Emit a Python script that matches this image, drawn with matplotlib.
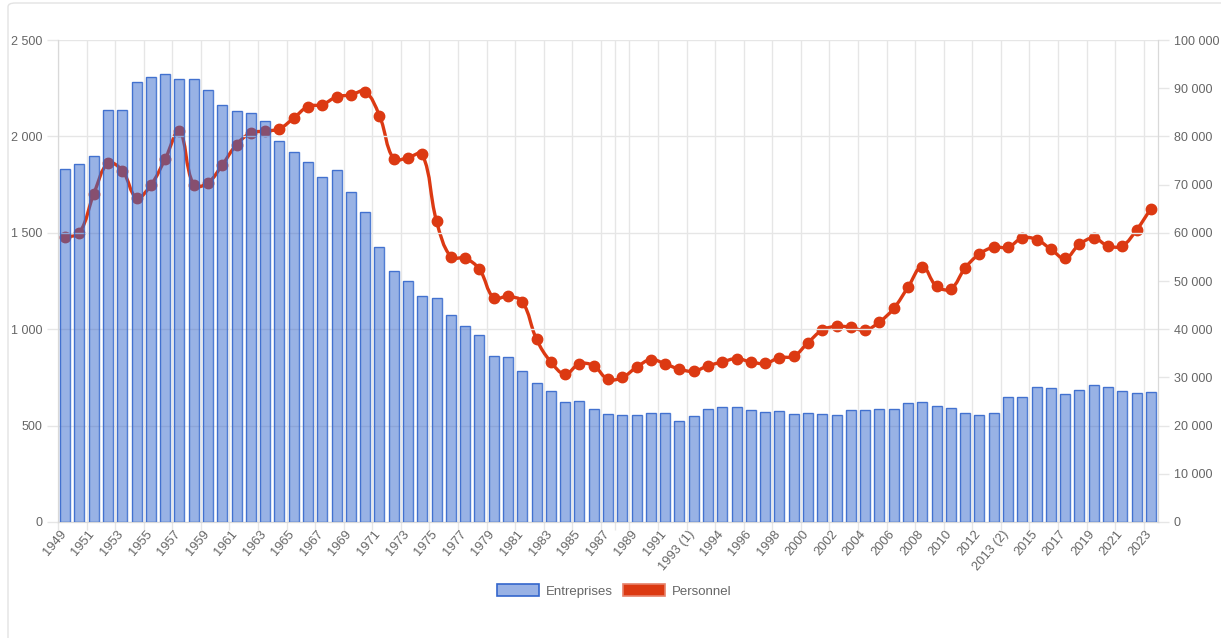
import matplotlib
matplotlib.use("Agg")
import matplotlib.pyplot as plt
import numpy as np
from matplotlib.path import Path
from matplotlib.patches import PathPatch, Patch, FancyBboxPatch
from matplotlib.ticker import FuncFormatter, FixedLocator
from matplotlib.transforms import ScaledTranslation

plt.rcParams['font.family'] = ['Liberation Sans', 'DejaVu Sans']

years = [str(y) for y in range(1949, 1993)] + ["1993 (1)", "1993"] + \
        [str(y) for y in range(1994, 2014)] + ["2013 (2)"] + [str(y) for y in range(2014, 2024)]

entreprises = [1833, 1856, 1900, 2135, 2139, 2283, 2309, 2326, 2296, 2300,
               2243, 2161, 2131, 2120, 2081, 1976, 1920, 1867, 1789, 1828,
               1713, 1609, 1428, 1302, 1250, 1170, 1163, 1076, 1015, 972,
               859, 856, 785, 720, 678, 624, 626, 585, 561, 556,
               557, 565, 567, 526, 552, 585, 598, 598, 580, 572,
               574, 561, 565, 561, 556, 580, 581, 587, 587, 619,
               620, 602, 589, 565, 556, 565, 650, 648, 700, 693,
               665, 685, 709, 702, 681, 670, 672]

personnel = [59100, 60000, 68000, 74400, 72900, 67300, 69900, 75300, 81100, 69900,
             70400, 74100, 78300, 80700, 81100, 81600, 83800, 86200, 86600, 88200,
             88600, 89300, 84300, 75300, 75600, 76300, 62400, 55000, 54700, 52400,
             46500, 46800, 45700, 37900, 33200, 30700, 32800, 32400, 29600, 30000,
             32100, 33700, 32800, 31700, 31300, 32400, 33200, 33900, 33200, 32900,
             34100, 34400, 37200, 39800, 40600, 40400, 39800, 41500, 44300, 48700,
             53000, 48900, 48400, 52700, 55600, 57000, 57000, 58900, 58600, 56600,
             54700, 57600, 58900, 57300, 57300, 60600, 65000]

blue = "#3366cc"
red = "#dc3912"
grid_c = "#e6e6e6"
txt_c = "#666666"

fig = plt.figure(figsize=(12.21, 6.38), dpi=100)
ax = fig.add_axes([58 / 1221, 1 - 522 / 638, 1100 / 1221, 482 / 638])
ax2 = ax.twinx()

x = np.arange(len(years))

# line on the lower axes so the bars (semi transparent) sit over it
ax.set_xlim(-0.5, len(years) - 0.5)
ax.set_ylim(0, 100000)
ax2.set_ylim(0, 2500)

# smooth curve like chart.js (tension 0.4), control points in pixel space
pts = ax.transData.transform(np.column_stack([x, personnel]))
tension = 0.4
cps = []
for i in range(len(pts)):
    prev = pts[i - 1] if i > 0 else pts[i]
    cur = pts[i]
    nxt = pts[i + 1] if i < len(pts) - 1 else pts[i]
    d01 = np.hypot(*(cur - prev))
    d12 = np.hypot(*(nxt - cur))
    tot = d01 + d12 if d01 + d12 > 0 else 1
    fa = tension * d01 / tot
    fb = tension * d12 / tot
    cps.append((cur - fa * (nxt - prev), cur + fb * (nxt - prev)))
verts = [pts[0]]
codes = [Path.MOVETO]
for i in range(1, len(pts)):
    verts += [cps[i - 1][1], cps[i][0], pts[i]]
    codes += [Path.CURVE4] * 3
verts = ax.transData.inverted().transform(np.array(verts))
ax.add_patch(PathPatch(Path(verts, codes), facecolor="none", edgecolor=red, lw=2.4, zorder=3))
ax.plot(x, personnel, "o", color=red, ms=7.5, zorder=4)

ax2.bar(x, entreprises, width=0.7, color=blue, alpha=0.5, edgecolor="none", zorder=3)
ax2.bar(x, entreprises, width=0.7, color="none", edgecolor=blue, lw=1.0, alpha=0.85, zorder=3)

# swap sides: bars scale on the left, personnel on the right
ax.yaxis.tick_right()
ax2.yaxis.tick_left()
ax.set_zorder(1)
ax2.set_zorder(2)
ax2.patch.set_visible(False)

fmt = FuncFormatter(lambda v, p: f"{int(v):,}".replace(",", " "))
ax.set_yticks(np.arange(0, 100001, 10000))
ax2.set_yticks(np.arange(0, 2501, 500))
ax.yaxis.set_major_formatter(fmt)
ax2.yaxis.set_major_formatter(fmt)

ax2.yaxis.grid(True, color=grid_c, lw=1, zorder=0)
ax.set_axisbelow(True)
ax2.set_axisbelow(True)

bounds = [i - 0.5 for i in range(0, len(years), 2)]
ax.set_xticks(bounds)
ax.set_xticklabels([years[i] for i in range(0, len(years), 2)], rotation=50,
                   ha="right", va="center", rotation_mode="anchor")
ax.xaxis.set_minor_locator(FixedLocator([38.5]))
ax.xaxis.grid(True, which="both", color=grid_c, lw=1)

for a in (ax, ax2):
    for s in a.spines.values():
        s.set_color("#d9d9d9")
    a.spines["top"].set_visible(False)
    a.tick_params(which="both", colors=txt_c, labelsize=9, length=8, color=grid_c, width=1)
ax.tick_params(axis="x", which="both", length=6, pad=1, labelsize=9.3)
for lab in ax.get_xticklabels():
    lab.set_transform(lab.get_transform() + ScaledTranslation(6 / 100, 0, fig.dpi_scale_trans))

handles = [Patch(facecolor="#99b2e5", edgecolor=blue, lw=1.2, label="Entreprises"),
           Patch(facecolor=red, edgecolor="#e8826a", lw=1.2, label="Personnel")]
fig.legend(handles=handles, loc="center", bbox_to_anchor=(0.503, 1 - 591 / 638), ncol=2,
           frameon=False, fontsize=9.5, labelcolor=txt_c, handlelength=3.2, handleheight=1.0,
           columnspacing=0.8, handletextpad=0.5)

fig.patches.append(FancyBboxPatch((8 / 1221, -0.02), 1.0, 1 - 3 / 638 + 0.02,
                                  boxstyle="round,pad=0,rounding_size=0.006",
                                  transform=fig.transFigure, facecolor="none",
                                  edgecolor="#e3e3e3", lw=1))

fig.savefig("out.png", dpi=100)
